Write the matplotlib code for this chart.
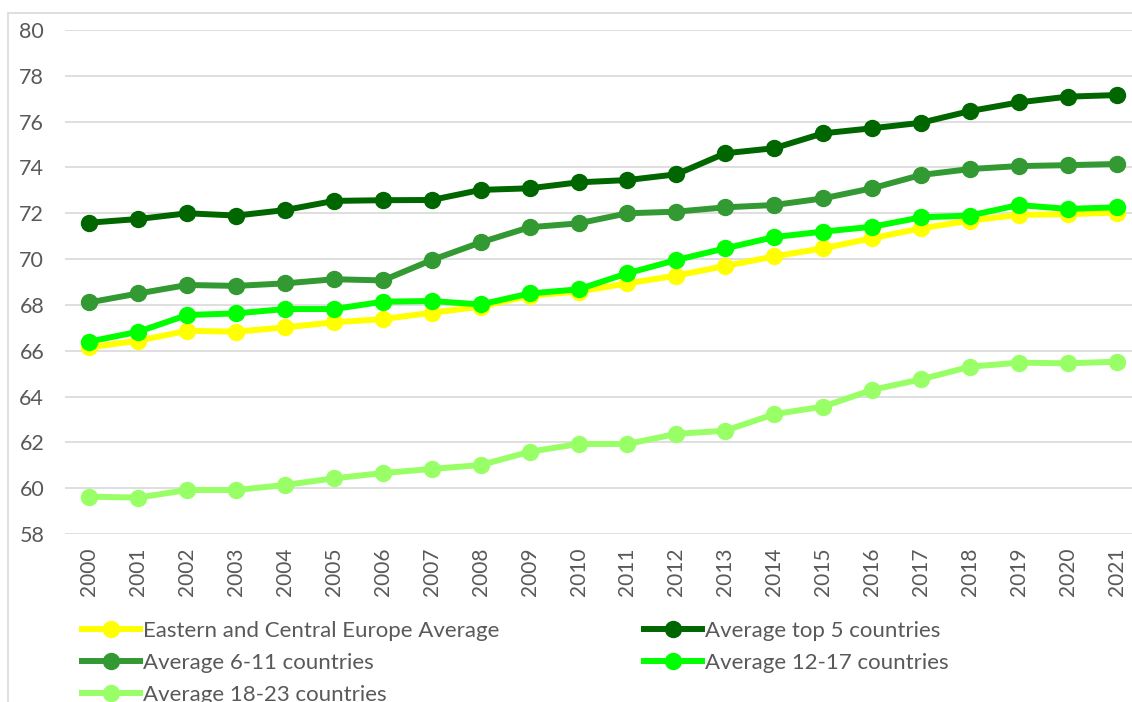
import matplotlib.pyplot as plt
from matplotlib.lines import Line2D
from matplotlib.patches import Rectangle

plt.rcParams['font.family'] = ['Lato', 'DejaVu Sans']

# --- Data
years = [str(y) for y in range(2000, 2022)]

eastern_central = [66.15, 66.44, 66.87, 66.83, 67.02, 67.24, 67.38, 67.66, 67.92, 68.40, 68.58,
                   68.94, 69.28, 69.70, 70.12, 70.47, 70.91, 71.34, 71.68, 71.93, 71.96, 72.03]
top_5 = [71.59, 71.75, 72.00, 71.90, 72.14, 72.54, 72.57, 72.58, 73.02, 73.09, 73.35,
         73.45, 73.70, 74.62, 74.84, 75.49, 75.71, 75.95, 76.46, 76.84, 77.09, 77.16]
avg_6_11 = [68.11, 68.50, 68.87, 68.83, 68.94, 69.12, 69.07, 69.96, 70.73, 71.39, 71.56,
            72.00, 72.07, 72.26, 72.36, 72.65, 73.09, 73.67, 73.93, 74.06, 74.10, 74.15]
avg_12_17 = [66.40, 66.83, 67.56, 67.63, 67.82, 67.82, 68.14, 68.17, 68.02, 68.50, 68.68,
             69.38, 69.96, 70.47, 70.96, 71.20, 71.41, 71.82, 71.90, 72.36, 72.19, 72.26]
avg_18_23 = [59.63, 59.59, 59.92, 59.92, 60.14, 60.43, 60.66, 60.84, 61.01, 61.59, 61.93,
             61.93, 62.37, 62.51, 63.23, 63.56, 64.29, 64.75, 65.30, 65.48, 65.45, 65.52]

series = [
    ("Eastern and Central Europe Average", eastern_central, "#ffff00"),
    ("Average top 5 countries", top_5, "#006600"),
    ("Average 6-11 countries", avg_6_11, "#339933"),
    ("Average 12-17 countries", avg_12_17, "#00ff00"),
    ("Average 18-23 countries", avg_18_23, "#99ff66"),
]

W, H = 1132, 702
fig = plt.figure(figsize=(W / 100, H / 100), dpi=100)

# chart border (Excel-style)
fig.patches.append(Rectangle((8 / W, -0.1), 1.2, 1.1 - 13 / H, transform=fig.transFigure,
                             fill=False, edgecolor="#d9d9d9", lw=1.2))

# plot area: x from 65px, y from 30px (80) to 534px (58)
ax = fig.add_axes([65 / W, 1 - 534 / H, 1076 / W, 504 / H])
x = list(range(len(years)))

handles = []
for label, vals, color in series:
    ax.plot(x, vals, color=color, lw=4.3, marker="o", markersize=11.5, zorder=3)
    handles.append(Line2D([], [], color=color, lw=4.3, marker="o", markersize=11.5, label=label))

ax.set_xlim(-0.5, len(years) - 0.5)
ax.set_ylim(58, 80)
ax.set_yticks(range(58, 81, 2))
ax.set_xticks(x)
ax.set_xticklabels(years, rotation=90)
ax.grid(axis="y", color="#d9d9d9", lw=1.2)
ax.set_axisbelow(True)
for s in ax.spines.values():
    s.set_visible(False)
ax.tick_params(length=0, colors="#595959")
ax.tick_params(axis="y", pad=15, labelsize=15.5)
ax.tick_params(axis="x", pad=10, labelsize=15)

order = [0, 2, 4, 1, 3]
fig.legend([handles[i] for i in order], [handles[i].get_label() for i in order],
           loc="upper left", bbox_to_anchor=(82 / W, 1 - 621 / H), ncol=2, frameon=False,
           fontsize=16, labelcolor="#595959", handlelength=2.6, handletextpad=0.15,
           columnspacing=6.5, labelspacing=0.54, borderaxespad=0, borderpad=0)

fig.savefig("out.png", dpi=100)
